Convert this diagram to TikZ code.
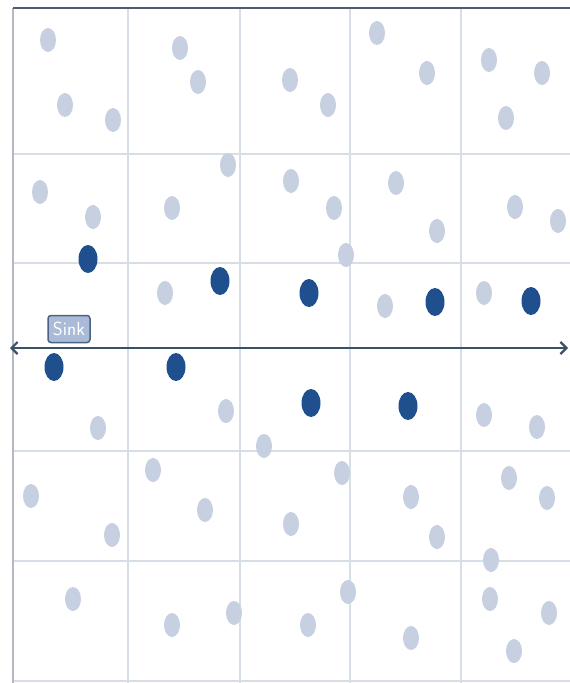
\documentclass[tikz,border=0pt]{standalone}
\usepackage{amsmath,amssymb}
\usepackage{tikz}
\usetikzlibrary{arrows.meta}
\usepackage{xcolor}
\usetikzlibrary{arrows.meta,shapes.geometric}

\definecolor{gridline}{HTML}{D8DEE6}
\definecolor{frameleft}{HTML}{B4B8BF}
\definecolor{frametop}{HTML}{4C5C72}
\definecolor{axisblue}{HTML}{3B5069}
\definecolor{idlenode}{HTML}{C6D0E0}
\definecolor{activenode}{HTML}{1F4F8D}
\definecolor{sinkfill}{HTML}{A9BBD6}
\definecolor{sinkdraw}{HTML}{4D6383}

\tikzset{
  idle/.style={ellipse,fill=idlenode,inner sep=0pt,minimum width=16pt,minimum height=24pt},
  active/.style={ellipse,fill=activenode,inner sep=0pt,minimum width=19pt,minimum height=28pt},
  sinkbox/.style={draw=sinkdraw,fill=sinkfill,line width=1.5pt,rounded corners=3pt,
    minimum width=42pt,minimum height=27pt,inner sep=1pt,text=white,
    font=\sffamily\fontsize{19}{20}\selectfont}
}

\begin{document}
\begin{tikzpicture}[x=1pt,y=-1pt]
			\useasboundingbox (0,0) rectangle (570,683);
			% field grid
			\foreach \gx in {128,240,350,461}
				\draw[gridline,line width=1.1pt] (\gx,8) -- (\gx,683);
			\foreach \gy in {154,263,451,561,681}
				\draw[gridline,line width=1.1pt] (13,\gy) -- (570,\gy);
			\draw[frameleft,line width=2.5pt] (13,8) -- (13,683);
			\draw[frametop,line width=1.5pt] (13,8) -- (570,8);
			% sensors
			\foreach \px/\py [count=\i] in {48/40,65/105,113/120,180/48,198/82,290/80,328/105,377/33,427/73,489/60,542/73,506/118,
				40/192,93/217,172/208,228/165,291/181,334/208,346/255,396/183,437/231,515/207,558/221,
				165/293,385/306,484/293,
				98/428,226/411,264/446,484/415,537/427,
				31/496,112/535,153/470,205/510,291/524,342/473,411/497,437/537,509/478,547/498,491/560,
				73/599,172/625,234/613,308/625,348/592,411/638,490/599,549/613,514/651}
				\node[idle] (s\i) at (\px,\py) {};
			\foreach \px/\py [count=\i] in {88/259,220/281,309/293,435/302,531/301,54/367,176/367,311/403,408/406}
				\node[active] (h\i) at (\px,\py) {};
			% sink and line
			\coordinate (west) at (10,348);
			\coordinate (east) at (568,348);
			\draw[axisblue,line width=2.2pt,{Straight Barb[length=6pt,width=12pt]}-{Straight Barb[length=6pt,width=12pt]}] (west) -- (east);
			\node[sinkbox] (sink) at (69,329) {Sink};
		\end{tikzpicture}
\end{document}
